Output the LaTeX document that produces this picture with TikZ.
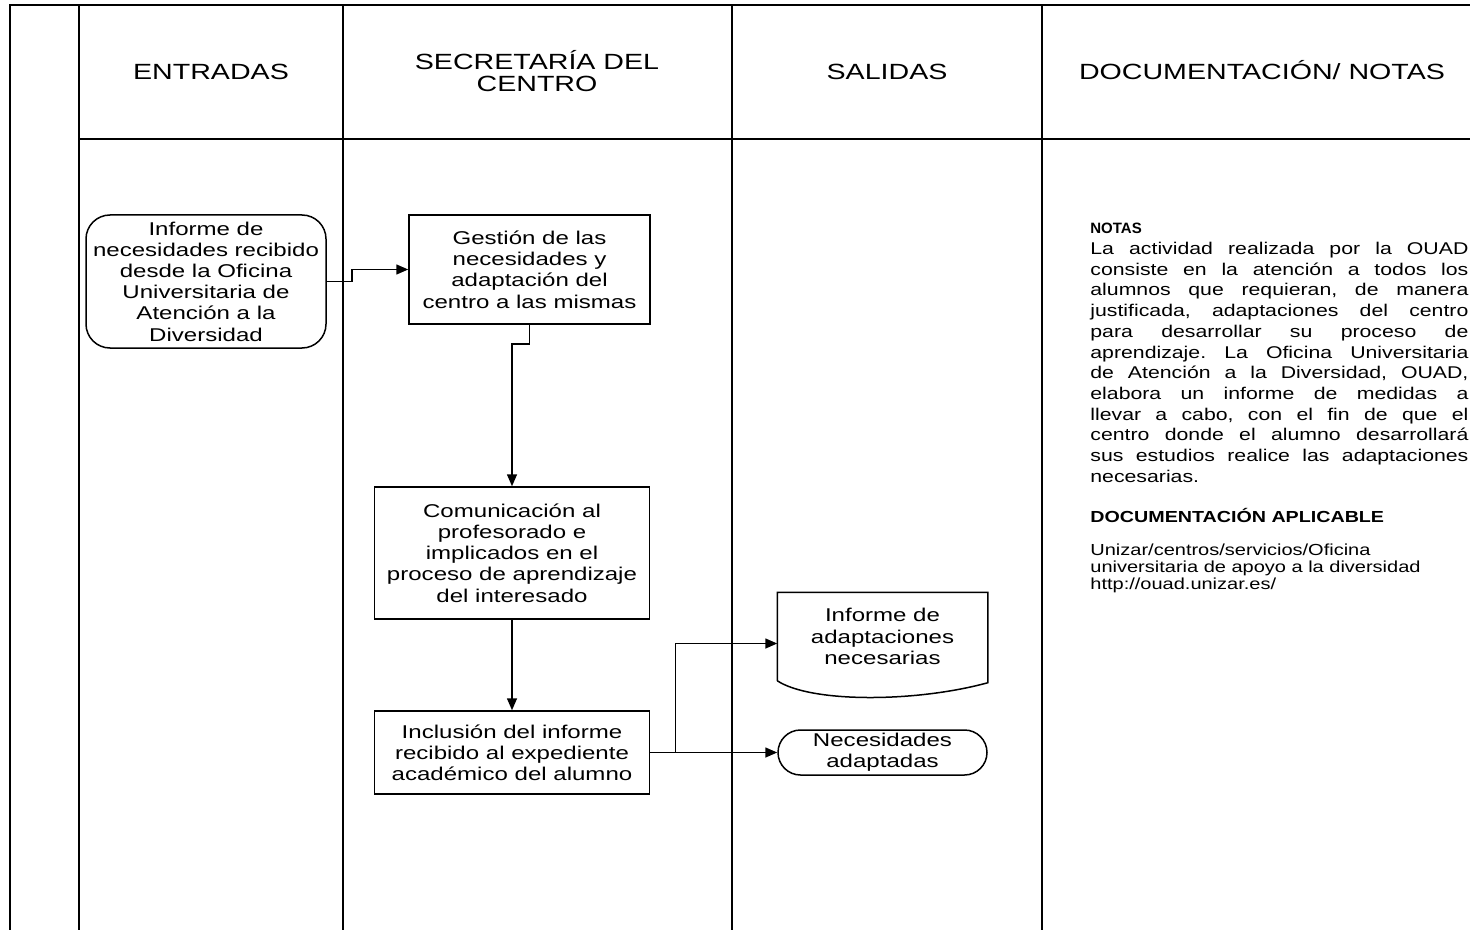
\documentclass[tikz,border=0pt]{standalone}
\usepackage{fontspec}
\setmainfont{Liberation Sans}
\newfontfamily\widefont[FakeStretch=1.3]{Liberation Sans}
\newfontfamily\notefont[FakeStretch=1.25]{Liberation Sans}
\newfontfamily\titlefont[FakeStretch=1.23]{Liberation Sans}
\usepackage{tikz}
\usetikzlibrary{arrows.meta, calc}
\frenchspacing

\begin{document}
\begin{tikzpicture}[x=0.5pt, y=-0.5pt,
			lane/.style={line width=1pt, draw=black},
			lanehead/.style={font=\widefont\fontsize{11}{11}\selectfont, align=center, inner sep=0},
			procbox/.style={rectangle, draw=black, line width=0.75pt, align=center, inner sep=0, font=\widefont\fontsize{9.25}{10.6}\selectfont},
			termbox/.style={procbox, rounded corners=12pt},
			docbox/.style={procbox, draw=none},
			notebox/.style={anchor=north west, inner sep=0, text width=189pt, align=justify, font=\notefont\fontsize{8.5}{10.35}\selectfont},
			flow/.style={-{Triangle[length=6pt, width=5pt]}, line width=0.75pt}
			]
			\useasboundingbox (0,0) rectangle (1470,930);
			
			% lanes
			\draw[lane] (10,930) -- (10,5) -- (1470,5);
			\foreach \lx in {79,343,732,1042}
				\draw[lane] (\lx,5) -- (\lx,930);
			\draw[lane] (79,139) -- (1470,139);
			
			\node[lanehead, anchor=base] (hentradas) at (211,80) {ENTRADAS};
			\node[lanehead] (hsecretaria) at (537,71) {SECRETARÍA DEL\\CENTRO};
			\node[lanehead, anchor=base] (hsalidas) at (887,80) {SALIDAS};
			\node[lanehead, anchor=base] (hdocnotas) at (1262,80) {DOCUMENTACIÓN/ NOTAS};
			
			% process
			\node[termbox, minimum width=120pt, minimum height=66.5pt] (informeouad) at (206,281.5) {Informe de\\necesidades recibido\\desde la Oficina\\Universitaria de\\Atención a la\\Diversidad};
			\node[procbox, minimum width=120.5pt, minimum height=54.5pt] (gestion) at (529.5,269.5) {Gestión de las\\necesidades y\\adaptación del\\centro a las mismas};
			\node[procbox, minimum width=137.5pt, minimum height=66pt] (comunicacion) at (512,553) {Comunicación al\\profesorado e\\implicados en el\\proceso de aprendizaje\\del interesado};
			\node[procbox, minimum width=137.5pt, minimum height=41.5pt] (inclusion) at (512,752.5) {Inclusión del informe\\recibido al expediente\\académico del alumno};
			\node[docbox, minimum width=104.5pt, minimum height=43.5pt] (informeadapt) at (882.5,636.5) {Informe de\\adaptaciones\\necesarias};
			\node[termbox, rounded corners=11.25pt, minimum width=104.5pt, minimum height=22.5pt] (necesidades) at (882.5,752.5) {Necesidades\\adaptadas};
			
			% document outline
			\draw[line width=0.75pt] (informeadapt.south west) -- (informeadapt.north west) -- (informeadapt.north east) -- ($(informeadapt.south east)+(0,2)$)
				.. controls ($(informeadapt.south)+(32,22)$) and ($(informeadapt.south)+(-72,22)$) .. (informeadapt.south west);
			
			\draw[flow] (informeouad.east) -- ++(25,0) |- (gestion.west);
			\draw[flow] (gestion.south) -- ++(0,19) -| (comunicacion.north);
			\draw[flow] (comunicacion) -- (inclusion);
			\draw[flow] (inclusion.east) -- ++(25,0) |- ($(informeadapt.west)+(0,7)$);
			\draw[flow] (inclusion.east) -- (necesidades.west);
			
			% notes
			\node[notebox] (notas) at (1090,223) {\parindent=0pt\parskip=0pt
				{\normalfont\bfseries\fontsize{7.5}{10.35}\selectfont NOTAS\par}
				La actividad realizada por la OUAD\linebreak
				consiste en la atención a todos los\linebreak
				alumnos que requieran, de manera\linebreak
				justificada, adaptaciones del centro\linebreak
				para desarrollar su proceso de\linebreak
				aprendizaje. La Oficina Universitaria\linebreak
				de Atención a la Diversidad, OUAD,\linebreak
				elabora un informe de medidas a\linebreak
				llevar a cabo, con el fin de que el\linebreak
				centro donde el alumno desarrollará\linebreak
				sus estudios realice las adaptaciones\linebreak
				necesarias.\par
				\vspace{9.9pt}
				{\titlefont\bfseries\fontsize{8}{10.35}\selectfont DOCUMENTACIÓN APLICABLE\par}
				\vspace{8pt}
				{\notefont\fontsize{8}{8.5}\selectfont Unizar/centros/servicios/Oficina\par
				universitaria de apoyo a la diversidad\par
				http://ouad.unizar.es/\par}
			};
		\end{tikzpicture}
\end{document}
